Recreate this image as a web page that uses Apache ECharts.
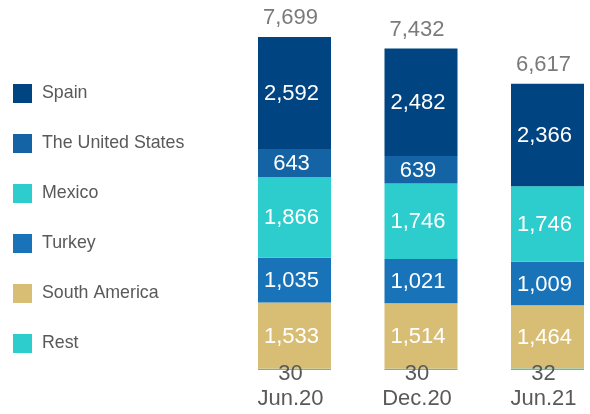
<!DOCTYPE html>
<html>
<head>
<meta charset="utf-8">
<script src="https://cdn.jsdelivr.net/npm/echarts@6/dist/echarts.min.js"></script>
<style>html,body{margin:0;padding:0;background:#fff;}#c{width:590px;height:414px;}</style>
</head>
<body>
<div id="c"></div>
<script>
const categories = ['Jun.20', 'Dec.20', 'Jun.21'];
const rest = [30, 30, 32];
const southAmerica = [1533, 1514, 1464];
const turkey = [1035, 1021, 1009];
const mexico = [1866, 1746, 1746];
const unitedStates = [643, 639, 0];
const spain = [2592, 2482, 2366];

const totals = categories.map((c, i) => rest[i] + southAmerica[i] + turkey[i] + mexico[i] + unitedStates[i] + spain[i]);

const FONT = '"Liberation Sans", Arial, sans-serif';
const GRAY = '#595959';
const fmt = v => v.toLocaleString('en-US');

function seg(name, data, color) {
  return {
    name, type: 'bar', stack: 'total', data, barWidth: 73,
    itemStyle: { color },
    label: {
      show: true, position: 'inside', offset: [-3, 1], color: '#fff', fontSize: 22, fontFamily: FONT,
      formatter: p => p.value ? fmt(p.value) : ''
    }
  };
}

const chart = echarts.init(document.getElementById('c'), null, { renderer: 'canvas' });
chart.setOption({
  animation: false,
  backgroundColor: '#fff',
  textStyle: { fontFamily: FONT },
  legend: {
    orient: 'vertical', left: 13, top: 84, padding: 0,
    itemWidth: 19, itemHeight: 19, itemGap: 31, icon: 'rect',
    data: ['Spain', 'The United States', 'Mexico', 'Turkey', 'South America', 'Rest'],
    textStyle: { color: GRAY, fontSize: 17.8, fontFamily: FONT, padding: [0, 0, 0, 5] }
  },
  grid: { left: 294.5, right: 42.5, top: 24, bottom: 44 },
  xAxis: {
    type: 'category', data: categories, boundaryGap: false,
    axisLine: { show: false }, axisTick: { show: false },
    axisLabel: { color: GRAY, fontSize: 22, fontFamily: FONT, margin: 18, padding: [0, 8, 0, 0] }
  },
  yAxis: { type: 'value', min: 0, max: 8000, show: false, splitLine: { show: false } },
  series: [
    {
      name: 'Rest', type: 'bar', stack: 'total', data: rest, barWidth: 73,
      itemStyle: { color: '#2DCCCD' },
      label: { show: true, position: 'bottom', distance: 0, offset: [-4, -7], color: GRAY, fontSize: 22, fontFamily: FONT, formatter: p => fmt(p.value) }
    },
    seg('South America', southAmerica, '#D8BE75'),
    seg('Turkey', turkey, '#1973B8'),
    seg('Mexico', mexico, '#2DCCCD'),
    seg('The United States', unitedStates, '#1464A5'),
    seg('Spain', spain, '#004481'),
    {
      name: 'Total', type: 'scatter', data: totals, symbolSize: 0, silent: true,
      label: { show: true, position: 'top', distance: 8, offset: [-4, 0], color: GRAY, fontSize: 22, fontFamily: FONT, formatter: p => fmt(p.value) }
    }
  ]
});
</script>
</body>
</html>
